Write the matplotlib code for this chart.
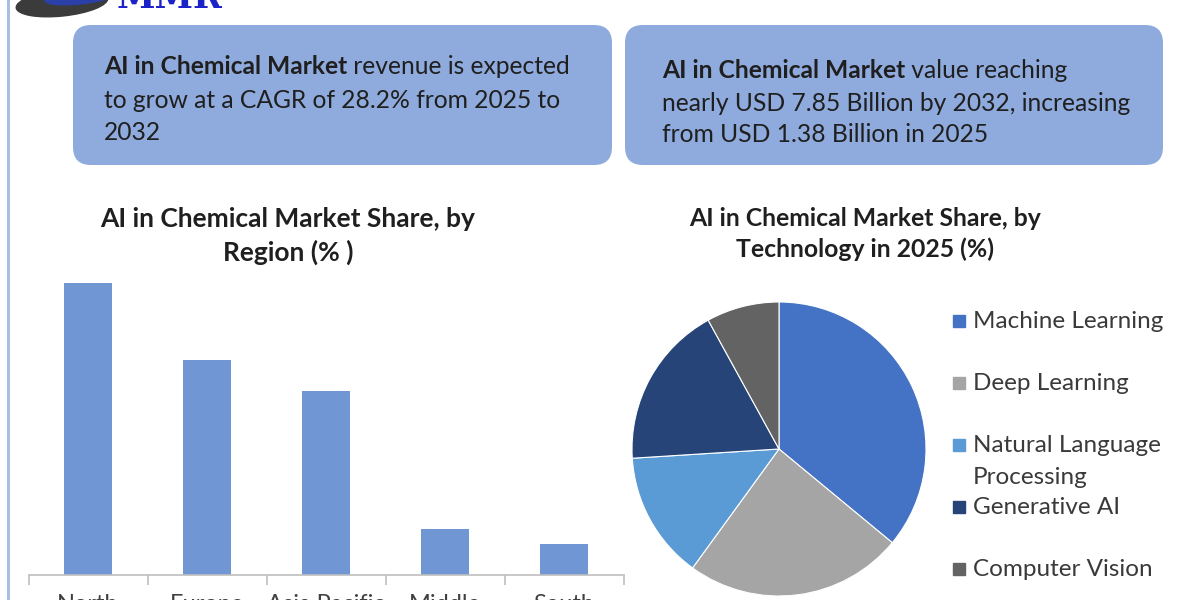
import matplotlib
matplotlib.use("Agg")
import matplotlib.pyplot as plt
from matplotlib.patches import FancyBboxPatch, Ellipse, Rectangle

plt.rcParams["font.family"] = ["Lato", "DejaVu Sans"]

# ---------------- data ----------------
regions = ["North\nAmerica", "Europe", "Asia Pacific", "Middle\nEast and\nAfrica", "South\nAmerica"]
region_share = [38, 28, 24, 6, 4]

technologies = ["Machine Learning", "Deep Learning", "Natural Language\nProcessing",
                "Generative AI", "Computer Vision"]
tech_share = [36, 24, 14, 18, 8]
tech_colors = ["#4472C4", "#A5A5A5", "#5B9BD5", "#264478", "#636363"]

box_bold = "AI in Chemical Market"
box_left_lines = [" revenue is expected", "to grow at a CAGR of 28.2% from 2025 to", "2032"]
box_right_lines = [" value reaching", "nearly USD 7.85 Billion by 2032, increasing", "from USD 1.38 Billion in 2025"]

title_region = "AI in Chemical Market Share, by\nRegion (% )"
title_tech = "AI in Chemical Market Share, by\nTechnology in 2025 (%)"

# ---------------- figure ----------------
W, H = 1200, 600
fig = plt.figure(figsize=(12, 6), dpi=100)
fig.patch.set_facecolor("white")

def fx(x):
    return x / W

def fy(y):
    return 1 - y / H

bg = fig.add_axes([0, 0, 1, 1], zorder=0)
bg.set_xlim(0, W)
bg.set_ylim(H, 0)
bg.axis("off")

# left border line
bg.plot([8, 8], [0, H], color="#A9BEE3", lw=2.2)

# logo (partially cut at top)
bg.add_patch(Ellipse((62, 3), 92, 26, angle=-6, color="#3B3B3B"))
bg.add_patch(Ellipse((80, -3), 70, 14, angle=-6, color="#2B3FA8"))
bg.text(117, 8, "MMR", fontsize=25, fontweight="bold", family="DejaVu Serif",
        color="#1C22C9", va="baseline", ha="left")

# info boxes
box_color = "#8FAADC"
for x0, x1 in [(73, 612), (625, 1163)]:
    bg.add_patch(FancyBboxPatch((x0 + 18, 25 + 18), (x1 - x0) - 36, 140 - 36,
                                boxstyle="round,pad=18", fc=box_color, ec="none"))

text_color = "#1F1F1F"
fs_box = 17.7

def box_text(x, ys, lines):
    t = bg.text(x, ys[0], box_bold, fontsize=fs_box, fontweight="bold",
                color=text_color, va="bottom", ha="left")
    bg.annotate(lines[0], xy=(1, 0), xycoords=t, fontsize=fs_box,
                color=text_color, va="bottom", ha="left")
    for yy, ln in zip(ys[1:], lines[1:]):
        bg.text(x, yy, ln, fontsize=fs_box, color=text_color, va="bottom", ha="left")

box_text(104, [78, 112, 144], box_left_lines)
box_text(662, [82, 115, 146], box_right_lines)

# chart titles
bg.text(288, 236, title_region, fontsize=19, fontweight="bold", color=text_color,
        ha="center", va="center", linespacing=1.45)
bg.text(865, 234, title_tech, fontsize=17.8, fontweight="bold", color=text_color,
        ha="center", va="center", linespacing=1.4)

# ---------------- bar chart ----------------
ymax = 40
top_px = 575 - 292 * ymax / region_share[0]
axb = fig.add_axes([fx(28.5), fy(575), 595 / W, (575 - top_px) / H], zorder=1)
axb.patch.set_alpha(0)
x = list(range(len(regions)))
axb.bar(x, region_share, width=0.4, color="#7097D3")
axb.set_xlim(-0.5, len(regions) - 0.5)
axb.set_ylim(0, ymax)
for s in ["top", "right", "left"]:
    axb.spines[s].set_visible(False)
axb.spines["bottom"].set_color("#BFBFBF")
axb.spines["bottom"].set_linewidth(1.2)
axb.set_yticks([])
axb.set_xticks(x)
axb.set_xticklabels(regions, fontsize=17, color="#404040", va="top", linespacing=1.3)
axb.tick_params(axis="x", which="major", length=0, pad=14)
axb.set_xticks([i - 0.5 for i in range(len(regions) + 1)], minor=True)
axb.tick_params(axis="x", which="minor", length=7, color="#BFBFBF", width=1.2)

# ---------------- pie chart ----------------
cx, cy, r = 779, 449, 147
axp = fig.add_axes([fx(cx - r), fy(cy + r), 2 * r / W, 2 * r / H], zorder=1)
axp.pie(tech_share, colors=tech_colors, startangle=90, counterclock=False,
        wedgeprops=dict(edgecolor="white", linewidth=0.8))
axp.set_xlim(-1, 1)
axp.set_ylim(-1, 1)
axp.set_aspect("equal")
axp.axis("off")

# legend (manual)
leg_y = [321, 383, 445, 507, 569]
for yy, lab, col in zip(leg_y, technologies, tech_colors):
    bg.add_patch(Rectangle((953, yy - 6), 12, 12, color=col))
    for k, ln in enumerate(lab.split("\n")):
        bg.text(973, yy + 32 * k, ln, fontsize=17.5, color="#3A3A3A",
                va="center", ha="left")

fig.savefig("out.png", dpi=100)
